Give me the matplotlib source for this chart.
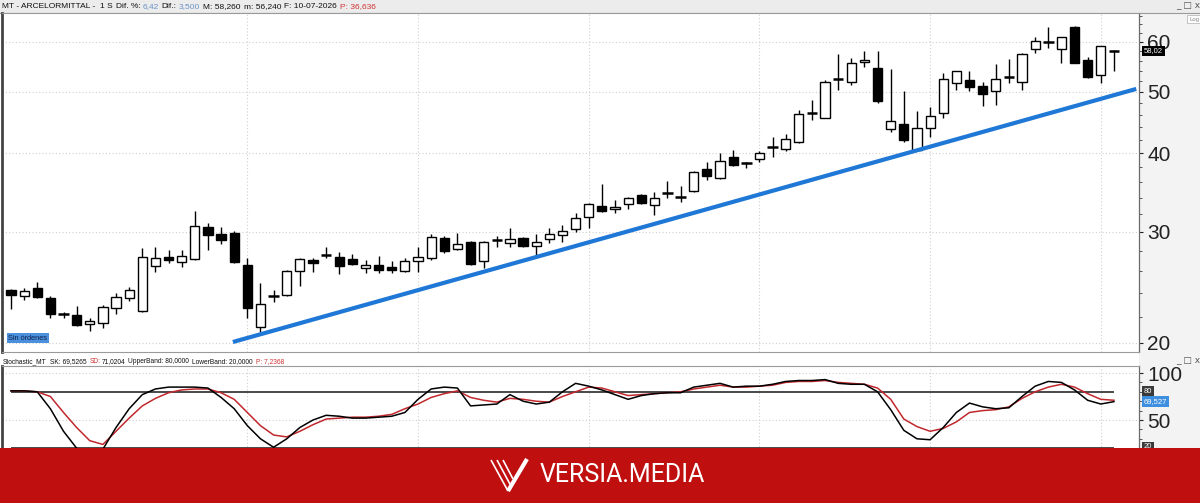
import matplotlib
matplotlib.use('Agg')
import matplotlib.pyplot as plt
from matplotlib.patches import Rectangle
from matplotlib.lines import Line2D
from matplotlib.ticker import FixedLocator, NullFormatter, FuncFormatter

W, H = 1200, 503

# ---------------- data (weekly candles, ArcelorMittal) ----------------
opens = [24.27, 23.74, 24.45, 23.57, 22.23, 22.15, 21.43, 21.51, 22.73, 23.57,
         22.48, 26.49, 27.38, 26.88, 27.18, 30.55, 29.78, 29.89, 26.59, 21.20,
         23.70, 23.83, 26.01, 27.08, 27.55, 27.38, 27.18, 26.30, 26.59, 26.40,
         26.01, 26.98, 27.28, 29.35, 28.19, 28.93, 26.98, 29.10, 28.82, 29.35,
         28.51, 29.24, 29.67, 30.33, 31.69, 32.97, 32.61, 33.21, 34.32, 33.09,
         34.50, 34.02, 34.83, 37.75, 36.53, 39.42, 38.57, 39.13, 40.85, 40.59,
         41.64, 46.25, 45.46, 52.35, 51.86, 55.77, 54.57, 43.67, 44.48, 40.44,
         43.83, 46.30, 51.67, 52.24, 51.11, 50.18, 52.70, 51.86, 58.49, 59.90,
         58.49, 63.38, 56.18, 53.19, 58.26]
highs = [24.36, 24.45, 24.99, 23.74, 22.40, 22.89, 21.91, 22.98, 24.01, 24.54,
         28.29, 28.40, 28.09, 28.09, 32.37, 31.00, 30.55, 30.11, 27.28, 24.90,
         24.27, 26.11, 27.28, 27.28, 28.40, 27.88, 27.68, 27.08, 27.48, 26.98,
         27.28, 28.40, 29.78, 29.57, 29.89, 29.03, 29.03, 29.57, 30.44, 29.46,
         29.78, 30.44, 30.78, 32.14, 33.33, 35.73, 33.70, 34.07, 34.45, 34.70,
         36.13, 35.47, 37.47, 38.71, 40.00, 40.44, 38.65, 40.29, 42.40, 42.87,
         46.81, 48.56, 52.24, 57.43, 56.59, 58.06, 58.06, 54.37, 50.18, 46.64,
         47.32, 53.58, 54.05, 53.97, 51.86, 55.37, 56.39, 57.60, 61.10, 63.38,
         61.20, 63.50, 56.80, 59.20, 58.30]
lows = [22.64, 23.40, 23.57, 21.91, 21.91, 21.30, 20.89, 21.12, 22.23, 23.32,
        22.40, 25.92, 26.79, 26.40, 27.08, 28.09, 28.71, 26.80, 21.91, 20.80,
        23.23, 23.74, 24.63, 25.92, 27.28, 25.73, 26.59, 25.83, 25.83, 25.83,
        25.95, 25.92, 27.08, 27.78, 28.10, 26.59, 26.30, 28.40, 28.40, 28.40,
        27.38, 28.82, 28.93, 30.00, 30.44, 32.30, 32.14, 32.61, 33.21, 31.91,
        33.95, 33.46, 34.70, 36.26, 36.39, 38.20, 37.87, 38.71, 39.42, 40.29,
        41.55, 45.13, 45.40, 50.37, 51.29, 54.77, 48.03, 43.20, 41.64, 40.30,
        42.40, 45.46, 50.37, 50.18, 47.51, 47.68, 51.67, 50.37, 57.64, 58.70,
        55.57, 55.50, 52.61, 51.67, 53.97]
closes = [23.83, 24.18, 23.66, 22.23, 22.19, 21.36, 21.67, 22.81, 23.66, 24.27,
          27.38, 27.28, 27.08, 27.48, 30.66, 29.67, 29.14, 26.88, 22.73, 23.06,
          23.78, 26.01, 27.18, 26.79, 27.62, 26.49, 26.69, 26.59, 26.11, 26.11,
          26.98, 27.38, 29.46, 27.98, 28.71, 26.69, 28.93, 29.18, 29.24, 28.51,
          28.93, 29.78, 30.11, 31.57, 33.21, 32.37, 32.85, 33.95, 33.33, 33.95,
          34.62, 34.12, 37.33, 36.79, 38.85, 38.29, 38.50, 40.00, 40.93, 42.10,
          46.13, 46.35, 51.86, 52.50, 55.57, 56.18, 48.38, 44.97, 41.94, 43.83,
          45.79, 52.43, 53.97, 50.92, 49.64, 52.43, 52.90, 57.43, 60.22, 60.10,
          61.10, 55.57, 52.80, 59.13, 58.02]

stoch_k = [81, 81, 80, 62, 38, 20, 8, 19, 42, 62,
           77, 83, 85, 85, 85, 84, 74, 62, 44, 30,
           21, 30, 42, 50, 55, 54, 52, 52, 53, 54,
           58, 72, 83, 85, 84, 65, 66, 67, 77, 70,
           67, 69, 80, 89, 86, 82, 77, 72, 76, 78,
           79, 79, 85, 87, 89, 85, 86, 86, 88, 91,
           92, 92, 93, 89, 88, 88, 80, 61, 39, 30,
           29, 42, 58, 68, 64, 62, 63, 75, 86, 91,
           90, 82, 71, 67, 69.53]
stoch_d = [81, 81, 80, 75, 58, 42, 28, 24, 38, 52,
           65, 73, 79, 82, 83, 83, 79, 72, 58, 44,
           34, 32, 38, 45, 51, 52, 53, 53, 54, 56,
           62, 67, 74, 78, 81, 74, 71, 69, 73, 72,
           70, 69, 75, 80, 85, 84, 80, 76, 77, 78,
           79, 80, 83, 85, 87, 85, 85, 86, 87, 90,
           91, 91, 92, 90, 89, 88, 84, 72, 51, 43,
           38, 41, 48, 58, 60, 61, 64, 73, 80, 85,
           88, 85, 78, 72, 71.02]

price_ticks = [20, 30, 40, 50, 60]
price_minor = [22, 24, 26, 28, 32, 34, 36, 38, 42, 44, 46, 48, 52, 54, 56, 58, 62, 64, 66]
stoch_ticks = [50, 100]
stoch_minor = [10, 20, 30, 40, 60, 70, 80, 90]
upper_band, lower_band = 80, 20
grid_idx = [18, 31, 44, 57, 70, 83]
trend_x = [16.9, 85.7]
trend_y = [20.07, 50.55]
last_price = 58.02
last_k = 69.527

header_segs = [('MT - ARCELORMITTAL -', '#111111', 5), ('1 S', '#111111', 3),
               ('Dif. %:', '#111111', 2), ('6,42', '#6b93c9', 3),
               ('Dif.:', '#111111', 2), ('3,500', '#6b93c9', 3),
               ('M: 58,260', '#111111', 3), ('m: 56,240', '#111111', 3),
               ('F: 10-07-2026', '#111111', 3), ('P: 36,636', '#d03434', 0)]
stoch_segs = [('Stochastic_MT', '#111111', 3), ('SK: 69,5265', '#111111', 3),
              ('SD:', '#d03434', 1), ('71,0204', '#111111', 3),
              ('UpperBand: 80,0000', '#111111', 3), ('LowerBand: 20,0000', '#111111', 3),
              ('P: 7,2368', '#d03434', 0)]

# ---------------- helpers ----------------
def fx(x):
    return x / W

def fy(y):
    return 1 - y / H

fig = plt.figure(figsize=(W / 100, H / 100), dpi=100)
fig.patch.set_facecolor('white')
renderer = fig.canvas.get_renderer()

FONT = ['Liberation Sans', 'DejaVu Sans']

# background bands
fig.add_artist(Rectangle((0, fy(13)), 1, 13 / H, transform=fig.transFigure,
                         facecolor='#ececec', edgecolor='none', zorder=-3))
fig.add_artist(Rectangle((fx(1139), fy(448)), (W - 1139) / W, (448 - 13) / H,
                         transform=fig.transFigure, facecolor='#f3f3f3',
                         edgecolor='none', zorder=-3))
fig.add_artist(Line2D([0, 1], [fy(13), fy(13)], transform=fig.transFigure,
                      color='#9a9a9a', lw=0.8, zorder=-2))

# ---------------- price panel ----------------
xmin, xmax = -0.685, 85.91
ax = fig.add_axes([fx(2), fy(352), fx(1139) - fx(2), fy(13) - fy(352)])
ax.set_yscale('log')
ax.set_xlim(xmin, xmax)
ax.set_ylim(19.35, 66.69)

for gi in grid_idx:
    ax.axvline(gi, color='#cfcfcf', lw=0.8, ls=(0, (1, 2)), zorder=0)
for pt in price_ticks:
    ax.axhline(pt, color='#cfcfcf', lw=0.8, ls=(0, (1, 2)), zorder=0)

bw = 0.7
for i, (o, h, l, c) in enumerate(zip(opens, highs, lows, closes)):
    ax.vlines(i, l, h, color='black', lw=1.0, zorder=2)
    if abs(c - o) / o < 0.005:
        ax.hlines((o + c) / 2, i - 0.4, i + 0.4, color='black', lw=1.8, zorder=3)
    else:
        fc = 'white' if c > o else 'black'
        ax.add_patch(Rectangle((i - bw / 2, min(o, c)), bw, abs(c - o),
                               facecolor=fc, edgecolor='black', lw=1.0, zorder=3))

ax.plot(trend_x, trend_y, color='#1f78d6', lw=3.0, solid_capstyle='butt', zorder=4)

ax.yaxis.tick_right()
ax.yaxis.set_major_locator(FixedLocator(price_ticks))
ax.yaxis.set_minor_locator(FixedLocator(price_minor))
ax.yaxis.set_major_formatter(FuncFormatter(lambda v, p: f'{v:.0f}'))
ax.yaxis.set_minor_formatter(NullFormatter())
ax.tick_params(axis='y', which='major', length=3, width=0.8, pad=3,
               labelsize=15, colors='#222222')
ax.tick_params(axis='y', which='minor', length=2.5, width=0.7, colors='#555555')
ax.set_xticks([])
for lab in ax.get_yticklabels():
    lab.set_fontfamily(FONT)
for s in ['top', 'bottom']:
    ax.spines[s].set_color('#9a9a9a')
    ax.spines[s].set_linewidth(0.8)
ax.spines['right'].set_color('#6a6a6a')
ax.spines['right'].set_linewidth(0.9)
ax.spines['left'].set_color('#444444')
ax.spines['left'].set_linewidth(2.0)

# ---------------- stochastic panel ----------------
ax2 = fig.add_axes([fx(2), fy(470), fx(1139) - fx(2), fy(366) - fy(470)])
ax2.set_xlim(xmin, xmax)
ax2.set_ylim(-3.19, 107.45)
for gi in grid_idx:
    ax2.axvline(gi, color='#cfcfcf', lw=0.8, ls=(0, (1, 2)), zorder=0)
for st in stoch_ticks:
    ax2.axhline(st, color='#cfcfcf', lw=0.8, ls=(0, (1, 2)), zorder=0)
xs = list(range(len(stoch_k)))
ax2.hlines([upper_band, lower_band], 0, len(stoch_k) - 1, color='#3a3a3a', lw=1.3, zorder=1)
ax2.plot(xs, stoch_k, color='black', lw=1.1, zorder=3)
ax2.plot(xs, stoch_d, color='#c0282d', lw=1.1, zorder=2)
ax2.yaxis.tick_right()
ax2.yaxis.set_major_locator(FixedLocator(stoch_ticks))
ax2.yaxis.set_minor_locator(FixedLocator(stoch_minor))
ax2.yaxis.set_major_formatter(FuncFormatter(lambda v, p: f'{v:.0f}'))
ax2.tick_params(axis='y', which='major', length=3, width=0.8, pad=3,
                labelsize=15, colors='#222222')
ax2.tick_params(axis='y', which='minor', length=2.5, width=0.7, colors='#555555')
ax2.set_xticks([])
for lab in ax2.get_yticklabels():
    lab.set_fontfamily(FONT)
ax2.spines['top'].set_color('#9a9a9a')
ax2.spines['top'].set_linewidth(0.8)
ax2.spines['right'].set_color('#6a6a6a')
ax2.spines['right'].set_linewidth(0.9)
ax2.spines['left'].set_color('#444444')
ax2.spines['left'].set_linewidth(2.0)
ax2.spines['bottom'].set_visible(False)

# ---------------- header texts (laid out one after another) ----------------
def text_row(segs, x0, y, size):
    x = x0
    for t, col, gap in segs:
        txt = fig.text(fx(x), fy(y), t, fontsize=size, color=col, va='center',
                       ha='left', family=FONT)
        bb = txt.get_window_extent(renderer=renderer)
        x += bb.width + gap

text_row(header_segs, 2, 6.5, 6)
text_row(stoch_segs, 3, 361.5, 4.8)

# window controls
for yy in (6, 361):
    fig.text(fx(1176), fy(yy), '_ \u25a1 x', fontsize=6.5, color='#555555',
             va='center', ha='left', family=['DejaVu Sans'])

# Log box
fig.text(fx(1189), fy(19), 'Log', fontsize=4.3, color='#888888', va='center', ha='left',
         family=FONT, bbox=dict(facecolor='white', edgecolor='#bbbbbb', lw=0.6, pad=1.2))

# last price / value tags
fig.text(fx(1144), fy(51), f'{last_price:.2f}'.replace('.', ','), fontsize=5.5,
         color='white', va='center', ha='left', family=FONT, zorder=6,
         bbox=dict(facecolor='black', edgecolor='none', pad=1.2))
fig.text(fx(1144), fy(391.5), '80', fontsize=5.5, color='white', va='center', ha='left',
         family=FONT, zorder=6, bbox=dict(facecolor='#3a3a3a', edgecolor='none', pad=1.2))
fig.text(fx(1144), fy(401.5), f'{last_k:.3f}'.replace('.', ','), fontsize=5.5,
         color='white', va='center', ha='left', family=FONT, zorder=6,
         bbox=dict(facecolor='#3f8fe0', edgecolor='none', pad=1.2))
fig.text(fx(1144), fy(447), '20', fontsize=5.5, color='white', va='center', ha='left',
         family=FONT, zorder=6, bbox=dict(facecolor='#3a3a3a', edgecolor='none', pad=1.2))

# "Sin órdenes" tag
fig.text(fx(8.5), fy(338), 'Sin órdenes', fontsize=5.3, color='#10204a', va='center',
         ha='left', family=FONT, zorder=6,
         bbox=dict(facecolor='#4a90dc', edgecolor='none', pad=1.3))

# ---------------- banner ----------------
fig.add_artist(Rectangle((0, 0), 1, (H - 448) / H, transform=fig.transFigure,
                         facecolor='#c00f0f', edgecolor='none', zorder=10))
fig.text(fx(540), fy(475.5), 'VERSIA.MEDIA', fontsize=18, color='white', va='center',
         ha='left', family=['Roboto', 'DejaVu Sans'], zorder=11)
logo = [((491, 460), (508, 491), 1.2), ((497, 460), (511, 486), 1.2),
        ((503, 460), (513, 479), 1.2), ((508, 491), (527, 459), 3.0)]
for (x0, y0), (x1, y1), lw in logo:
    fig.add_artist(Line2D([fx(x0), fx(x1)], [fy(y0), fy(y1)], transform=fig.transFigure,
                          color='white', lw=lw, zorder=11, solid_capstyle='butt'))

fig.savefig('out.png', dpi=100)
